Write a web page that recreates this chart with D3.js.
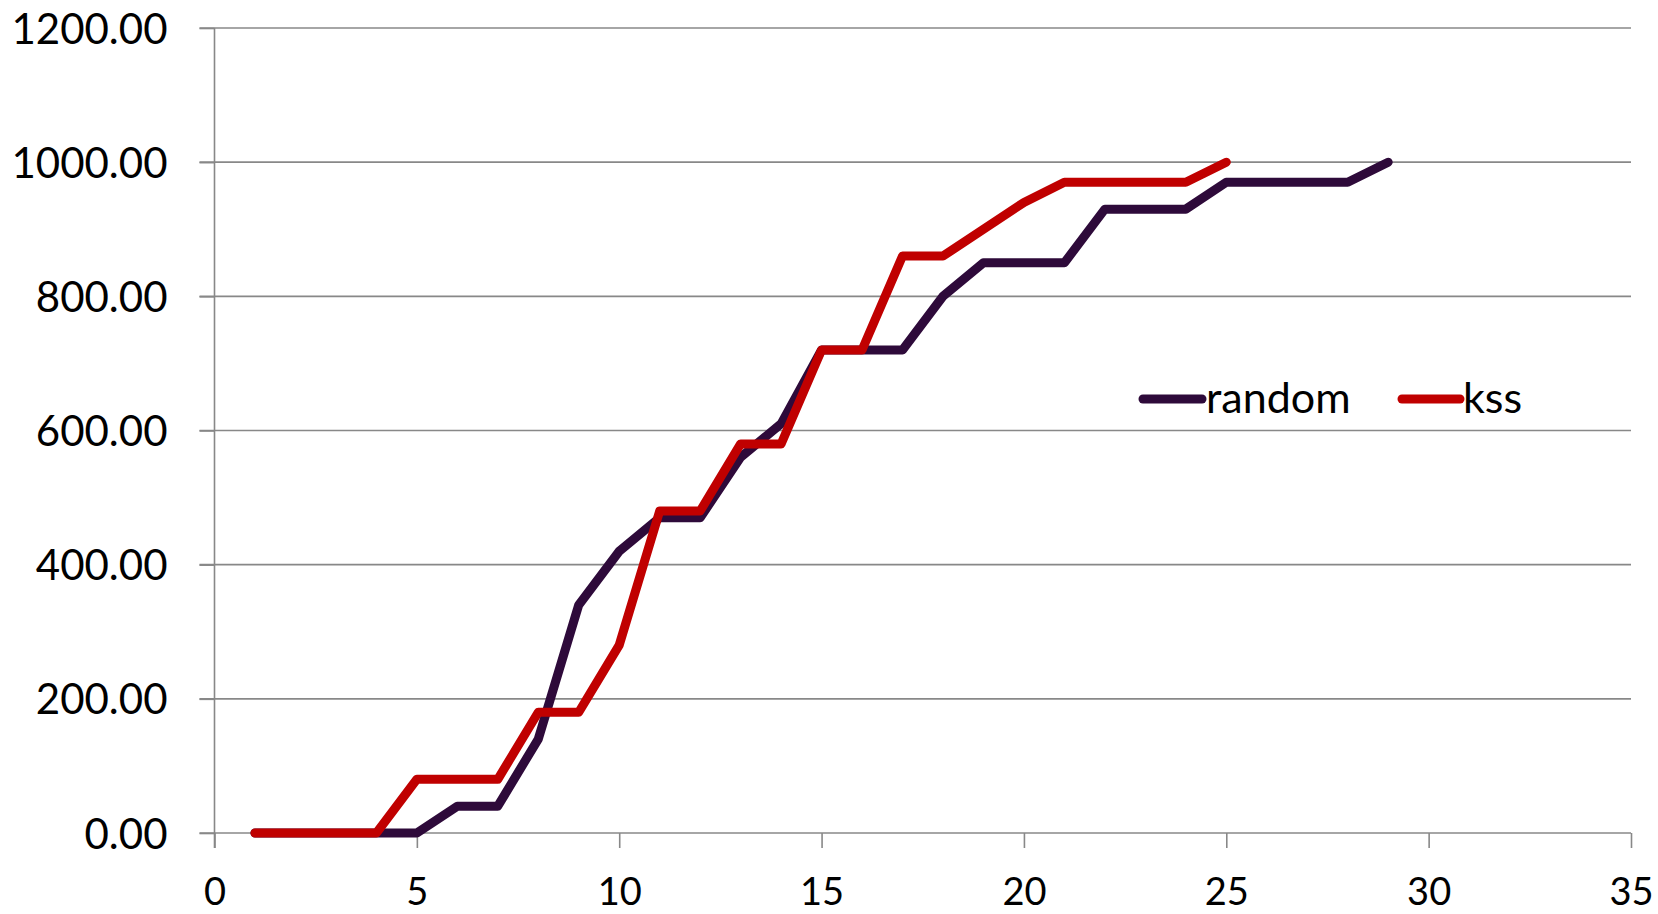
<!DOCTYPE html>
<html>
<head>
<meta charset="utf-8">
<script src="https://cdn.jsdelivr.net/npm/d3@7"></script>
<style>
  html, body { margin: 0; padding: 0; background: #fff; }
  svg { display: block; }
  text { font-family: Lato, "Open Sans", sans-serif; fill: #000; }
</style>
</head>
<body>
<svg id="chart" width="1658" height="914"></svg>
<script>
// ---- data ----
const randomX = [1,2,3,4,5,6,7,8,9,10,11,12,13,14,15,16,17,18,19,20,21,22,23,24,25,26,27,28,29];
const randomY = [0,0,0,0,0,40,40,140,340,420,470,470,560,610,720,720,720,800,850,850,850,930,930,930,970,970,970,970,1000];
const kssX = [1,2,3,4,5,6,7,8,9,10,11,12,13,14,15,16,17,18,19,20,21,22,23,24,25];
const kssY = [0,0,0,0,80,80,80,180,180,280,480,480,580,580,720,720,860,860,900,940,970,970,970,970,1000];
const xTicks = [0,5,10,15,20,25,30,35];
const yTicks = [0,200,400,600,800,1000,1200];
const seriesNames = ["random","kss"];
const seriesColors = ["#2E0A3A","#C00000"];

// ---- layout ----
const svg = d3.select("#chart");
const x = d3.scaleLinear().domain([0,35]).range([214.5,1631]);
const y = d3.scaleLinear().domain([0,1200]).range([833,28]);
const gridColor = "#888888";

// gridlines
svg.append("g").selectAll("line").data(yTicks).join("line")
  .attr("x1", x(0) - 15).attr("x2", x(35))
  .attr("y1", d => y(d)).attr("y2", d => y(d))
  .attr("stroke", gridColor).attr("stroke-width", 1.6);

// vertical axis line
svg.append("line")
  .attr("x1", x(0)).attr("x2", x(0))
  .attr("y1", y(1200)).attr("y2", y(0) + 15)
  .attr("stroke", gridColor).attr("stroke-width", 1.6);

// y axis labels
const yAxis = svg.append("g").attr("transform", `translate(${x(0)},0)`)
  .call(d3.axisLeft(y).tickValues(yTicks).tickFormat(d3.format(".2f")).tickSize(15).tickPadding(32).tickSizeOuter(0));
yAxis.select(".domain").remove();
yAxis.selectAll("line").attr("stroke", gridColor).attr("stroke-width", 1.6);
yAxis.selectAll("text").attr("font-size", 42).attr("dy", "0.36em").style("font-family", "Lato, sans-serif");

// x axis labels
const xAxis = svg.append("g").attr("transform", `translate(0,${y(0)})`)
  .call(d3.axisBottom(x).tickValues(xTicks).tickFormat(d3.format("d")).tickSize(15).tickSizeOuter(0));
xAxis.select(".domain").remove();
xAxis.selectAll("line").attr("stroke", gridColor).attr("stroke-width", 1.6);
xAxis.selectAll("text").attr("font-size", 38).attr("y", 72).attr("dy", 0).style("font-family", "Lato, sans-serif");

// lines
const line = d3.line().x(d => x(d[0])).y(d => y(d[1]));
const series = [
  d3.zip(randomX, randomY),
  d3.zip(kssX, kssY)
];
series.forEach((s, i) => {
  svg.append("path").datum(s)
    .attr("d", line)
    .attr("fill", "none")
    .attr("stroke", seriesColors[i])
    .attr("stroke-width", 9)
    .attr("stroke-linecap", "round")
    .attr("stroke-linejoin", "round");
});

// legend
const legendItems = [
  { name: seriesNames[0], color: seriesColors[0], x1: 1143, x2: 1202, tx: 1206 },
  { name: seriesNames[1], color: seriesColors[1], x1: 1402, x2: 1460, tx: 1463 }
];
const lg = svg.append("g");
legendItems.forEach(it => {
  lg.append("line").attr("x1", it.x1).attr("x2", it.x2).attr("y1", 399).attr("y2", 399)
    .attr("stroke", it.color).attr("stroke-width", 9).attr("stroke-linecap", "round");
  lg.append("text").attr("x", it.tx).attr("y", 413).attr("font-size", 43).text(it.name);
});
</script>
</body>
</html>
